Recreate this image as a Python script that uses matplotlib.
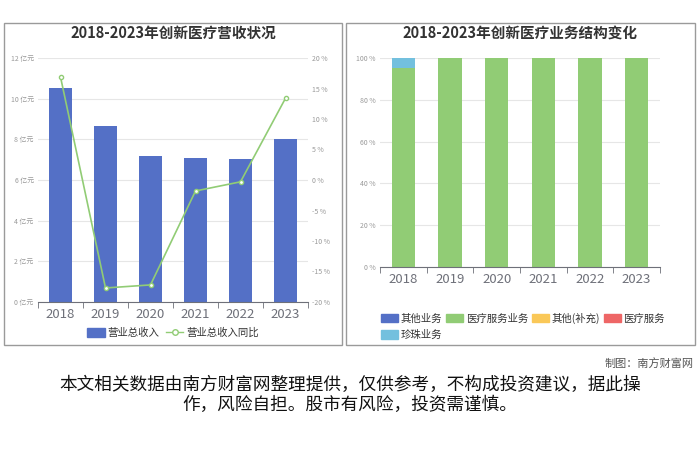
import numpy as np
import matplotlib
matplotlib.use('Agg')
import matplotlib.pyplot as plt
from matplotlib.patches import Rectangle
from matplotlib.lines import Line2D
from matplotlib.patches import FancyBboxPatch

plt.rcParams['font.family'] = ['Noto Sans CJK SC', 'DejaVu Sans']

# data
years = ['2018', '2019', '2020', '2021', '2022', '2023']
revenue = [10.53, 8.66, 7.18, 7.08, 7.03, 8.02]          # 亿元
revenue_yoy = [16.9, -17.7, -17.2, -1.8, -0.3, 13.4]     # %

seg_names = ['其他业务', '医疗服务业务', '其他(补充)', '医疗服务', '珍珠业务']
seg_colors = ['#5470c6', '#91cc75', '#fac858', '#ee6666', '#73c0de']
seg_other = [0, 0, 0, 0, 0, 0]
seg_medical = [95, 100, 100, 100, 100, 100]
seg_extra = [0, 0, 0, 0, 0, 0]
seg_service = [0, 0, 0, 0, 0, 0]
seg_pearl = [5, 0, 0, 0, 0, 0]

W, H = 700, 467
fig = plt.figure(figsize=(7, 4.67), dpi=100)


def fx(px):
    return px / W


def fy(py):
    return 1 - py / H


# panel frames
for x0, x1 in [(4, 342), (346, 695)]:
    fig.patches.append(Rectangle((fx(x0), fy(345)), fx(x1 - x0), (345 - 23) / H,
                                 transform=fig.transFigure, fill=False,
                                 edgecolor='#9a9a9a', linewidth=1.0))

grid_c = '#e6e6e6'
lab_c = '#6e7079'
x = np.arange(len(years))

# ---------- left chart ----------
ax = fig.add_axes([fx(38), fy(302), fx(308 - 38), (302 - 58) / H])
ax.bar(x, revenue, width=0.5, color='#5470c6', zorder=2)
ax.set_xlim(-0.5, 5.5)
ax.set_ylim(0, 12)
ax.set_yticks(np.arange(0, 13, 2))
ax.set_yticklabels([f'{v} 亿元' for v in range(0, 13, 2)], fontsize=5, color='#999999')
ax.grid(axis='y', color=grid_c, linewidth=0.8, zorder=0)
ax.set_xticks(x)
ax.set_xticklabels(years, fontsize=9.5, color=lab_c)
ax.tick_params(axis='x', length=0, pad=4)
ax.set_xticks(np.arange(-0.5, 6, 1), minor=True)
ax.tick_params(axis='x', which='minor', length=4, color='#6e7079')
ax.tick_params(axis='y', length=0, pad=3)
for s in ['top', 'right', 'left']:
    ax.spines[s].set_visible(False)
ax.spines['bottom'].set_color('#6e7079')

ax2 = ax.twinx()
ax2.plot(x, revenue_yoy, color='#91cc75', linewidth=1.2, marker='o', markersize=3,
         markerfacecolor='white', markeredgecolor='#91cc75', zorder=3)
ax2.set_ylim(-20, 20)
ax2.set_yticks(np.arange(-20, 21, 5))
ax2.set_yticklabels([f'{v} %' for v in range(-20, 21, 5)], fontsize=5, color='#999999')
ax2.tick_params(axis='y', length=0, pad=3)
for s in ['top', 'right', 'left', 'bottom']:
    ax2.spines[s].set_visible(False)

fig.text(fx(173), fy(33), '2018-2023年创新医疗营收状况', ha='center', va='center',
         fontsize=10.5, fontweight='bold', color='#333333')

h1 = FancyBboxPatch((0, 0), 1, 1, boxstyle='round,pad=0.1', color='#5470c6')
h2 = Line2D([], [], color='#91cc75', marker='o', markerfacecolor='white', markersize=4, linewidth=1)
fig.legend([h1, h2], ['营业总收入', '营业总收入同比'], loc='center', bbox_to_anchor=(fx(173), fy(333)),
           ncol=2, frameon=False, fontsize=7.5, handlelength=1.7, handleheight=0.9,
           columnspacing=0.6, handletextpad=0.3, labelcolor='#333333')

# ---------- right chart ----------
bx = fig.add_axes([fx(380), fy(267), fx(660 - 380), (267 - 58) / H])
bottom = np.zeros(len(years))
for vals, c in zip([seg_other, seg_medical, seg_extra, seg_service, seg_pearl], seg_colors):
    bx.bar(x, vals, bottom=bottom, width=0.5, color=c, zorder=2)
    bottom += np.array(vals)
bx.set_xlim(-0.5, 5.5)
bx.set_ylim(0, 100)
bx.set_yticks(np.arange(0, 101, 20))
bx.set_yticklabels([f'{v} %' for v in range(0, 101, 20)], fontsize=5, color='#999999')
bx.grid(axis='y', color=grid_c, linewidth=0.8, zorder=0)
bx.set_xticks(x)
bx.set_xticklabels(years, fontsize=9.5, color=lab_c)
bx.tick_params(axis='x', length=0, pad=4)
bx.set_xticks(np.arange(-0.5, 6, 1), minor=True)
bx.tick_params(axis='x', which='minor', length=4, color='#6e7079')
bx.tick_params(axis='y', length=0, pad=3)
for s in ['top', 'right', 'left']:
    bx.spines[s].set_visible(False)
bx.spines['bottom'].set_color('#6e7079')

fig.text(fx(520), fy(33), '2018-2023年创新医疗业务结构变化', ha='center', va='center',
         fontsize=10.5, fontweight='bold', color='#333333')

handles = [FancyBboxPatch((0, 0), 1, 1, boxstyle='round,pad=0.1', color=c) for c in seg_colors]
fig.legend(handles[:4], seg_names[:4], loc='center left', bbox_to_anchor=(fx(372), fy(318)),
           ncol=4, frameon=False, fontsize=7.5, handlelength=1.6, handleheight=0.9,
           columnspacing=0.4, handletextpad=0.25, labelcolor='#333333')
fig.legend(handles[4:], seg_names[4:], loc='center left', bbox_to_anchor=(fx(372), fy(335)),
           ncol=1, frameon=False, fontsize=7.5, handlelength=1.6, handleheight=0.9,
           handletextpad=0.25, labelcolor='#333333')

# footer
fig.text(fx(694), fy(363), '制图：南方财富网', ha='right', va='center', fontsize=8, color='#555555')
fig.text(0.5, fy(385), '本文相关数据由南方财富网整理提供，仅供参考，不构成投资建议，据此操',
         ha='center', va='center', fontsize=12.7, color='#111111')
fig.text(0.5, fy(405), '作，风险自担。股市有风险，投资需谨慎。',
         ha='center', va='center', fontsize=12.7, color='#111111')

fig.savefig('out.png', dpi=100)
